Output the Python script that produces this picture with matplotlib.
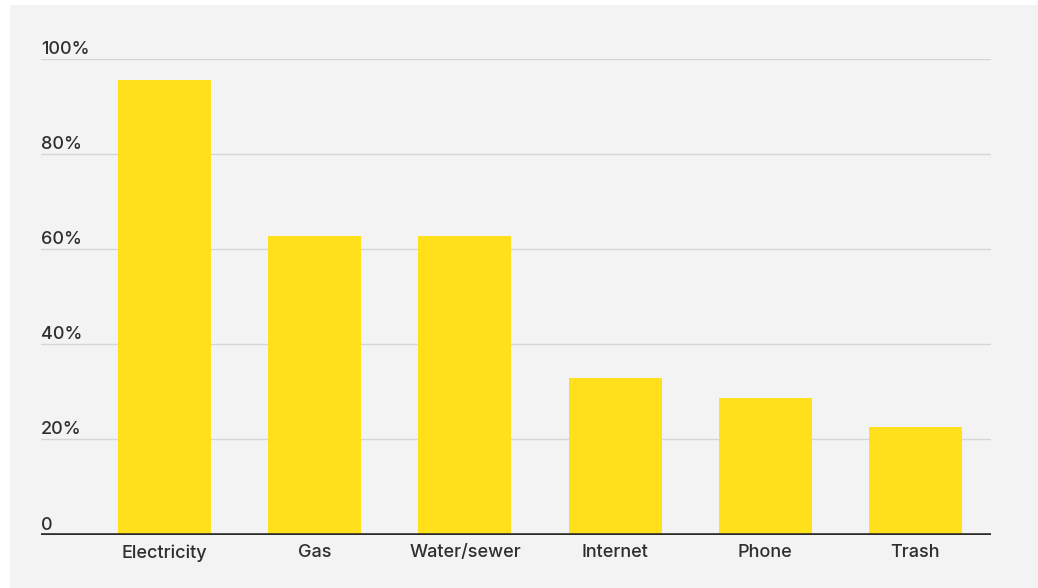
import matplotlib.pyplot as plt
from matplotlib.patches import Rectangle
from matplotlib.transforms import blended_transform_factory, offset_copy

categories = ["Electricity", "Gas", "Water/sewer", "Internet", "Phone", "Trash"]
shares = [95.6, 62.8, 62.8, 32.9, 28.7, 22.6]
ytick_values = [0, 20, 40, 60, 80, 100]
ytick_labels = ["0", "20%", "40%", "60%", "80%", "100%"]

bg = "#f3f3f3"
bar_color = "#ffe01b"
text_color = "#2e2e2e"

plt.rcParams["font.family"] = ["Inter", "DejaVu Sans"]

fig = plt.figure(figsize=(10.38, 5.88), dpi=100)
fig.patch.set_facecolor("white")
# grey panel, leaving a thin white strip on the left and top
fig.add_artist(Rectangle((10 / 1038, 0), 1, 583 / 588, transform=fig.transFigure,
                         facecolor=bg, edgecolor="none", zorder=0))

ax = fig.add_axes([41 / 1038, 53.5 / 588, 950 / 1038, 475.5 / 588])
ax.set_facecolor("none")

x = list(range(len(categories)))
ax.bar(x, shares, width=0.62, color=bar_color, zorder=2)

ax.set_xlim(-0.823, 5.503)
ax.set_ylim(0, 100)

for v in ytick_values[1:]:
    ax.axhline(v, color="#d6d6d6", linewidth=1, zorder=1)
ax.axhline(0, color="#2b2b2b", linewidth=2.6, zorder=3, solid_capstyle="butt")

# y labels sit just above the grid lines, flush left
trans = blended_transform_factory(ax.transAxes, ax.transData)
trans = offset_copy(trans, fig=fig, x=0, y=5, units="dots")
for v, lab in zip(ytick_values, ytick_labels):
    ax.text(0, v, lab, transform=trans, ha="left", va="baseline",
            fontsize=13, fontweight="medium", color=text_color)

ax.set_yticks([])
ax.set_xticks(x)
ax.set_xticklabels(categories, fontsize=13, fontweight="medium", color=text_color)
ax.tick_params(axis="x", length=0, pad=7)

for s in ax.spines.values():
    s.set_visible(False)

fig.savefig("out.png", dpi=100)
